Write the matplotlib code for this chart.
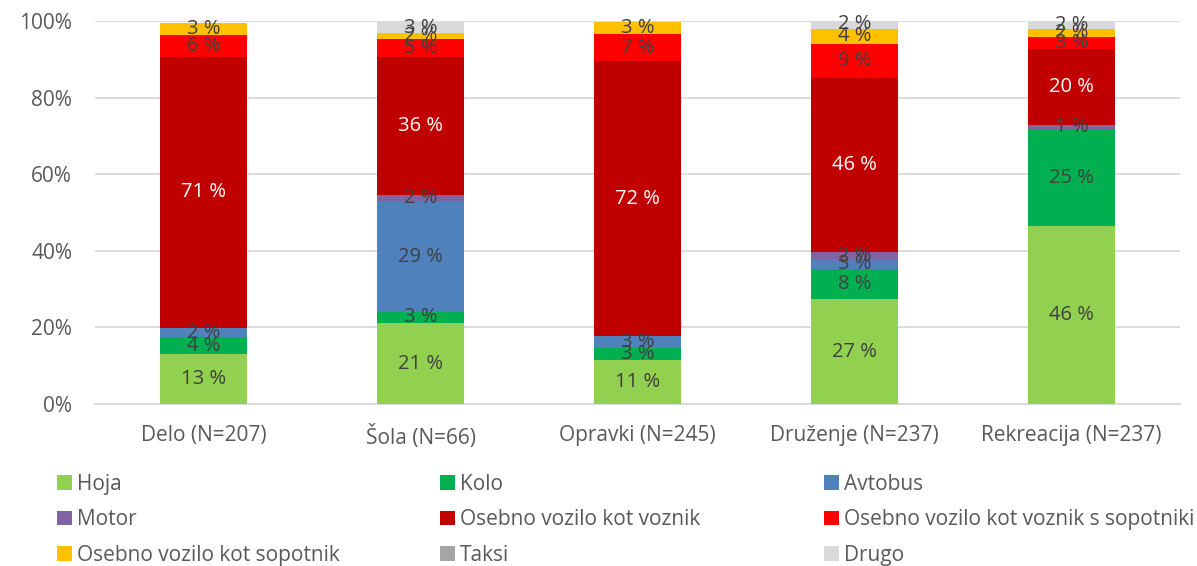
import numpy as np
import matplotlib.pyplot as plt
from matplotlib.patches import Patch

plt.rcParams['font.family'] = ['Open Sans', 'DejaVu Sans']

categories = ['Delo (N=207)', 'Šola (N=66)', 'Opravki (N=245)',
              'Druženje (N=237)', 'Rekreacija (N=237)']

series_names = ['Hoja', 'Kolo', 'Avtobus', 'Motor',
                'Osebno vozilo kot voznik',
                'Osebno vozilo kot voznik s sopotniki',
                'Osebno vozilo kot sopotnik', 'Taksi', 'Drugo']

# shares in percent, one list per transport mode (order follows categories)
hoja = [13.1, 21.1, 11.4, 27.4, 46.4]
kolo = [4.3, 3.0, 3.2, 7.9, 25.3]
avtobus = [2.4, 28.8, 3.2, 2.6, 0.0]
motor = [0.0, 1.6, 0.0, 1.7, 1.1]
voznik = [70.9, 36.2, 71.7, 45.6, 19.9]
voznik_sop = [5.7, 4.6, 7.1, 8.9, 3.2]
sopotnik = [3.0, 1.5, 3.2, 3.9, 2.1]
taksi = [0.0, 0.0, 0.0, 0.0, 0.0]
drugo = [0.0, 3.0, 0.0, 2.2, 1.7]

colors = ['#92D050', '#00B050', '#4F81BD', '#8064A2', '#C00000',
          '#FF0000', '#FFC000', '#A5A5A5', '#D9D9D9']

data = [hoja, kolo, avtobus, motor, voznik, voznik_sop, sopotnik, taksi, drugo]

fig = plt.figure(figsize=(11.97, 5.66), dpi=100)
ax = fig.add_axes([0.0794, 0.2862, 0.9064, 0.6767])

x = np.arange(len(categories))
bottom = np.zeros(len(categories))
for name, vals, col in zip(series_names, data, colors):
    vals = np.array(vals) / 100.0
    ax.bar(x, vals, 0.4, bottom=bottom, color=col, label=name, zorder=3)
    txt_col = 'white' if name == 'Osebno vozilo kot voznik' else '#404040'
    for xi, v, b in zip(x, vals, bottom):
        if v > 0:
            ax.text(xi, b + v / 2, f'{v * 100:.0f} %', ha='center', va='center',
                    fontsize=14.5, color=txt_col, zorder=4)
    bottom += vals

ax.set_xlim(-0.5, len(categories) - 0.5)
ax.set_ylim(0, 1)
ax.set_yticks(np.linspace(0, 1, 6))
ax.set_yticklabels([f'{int(t * 100)}%' for t in np.linspace(0, 1, 6)])
ax.set_xticks(x)
ax.set_xticklabels(categories)
ax.tick_params(axis='both', length=0, labelsize=15, colors='#595959')
ax.tick_params(axis='x', pad=15)
ax.tick_params(axis='y', pad=16.5)
ax.grid(axis='y', color='#D9D9D9', linewidth=1.3, zorder=0)
for s in ['top', 'right', 'left']:
    ax.spines[s].set_visible(False)
ax.spines['bottom'].set_color('#D9D9D9')
ax.spines['bottom'].set_linewidth(1.3)

# legend drawn as three columns so they sit at even spacing
handles = [Patch(facecolor=c, edgecolor='none') for c in colors]
col_x = [0.0476, 0.3676, 0.6884]
for j in range(3):
    idx = [j, j + 3, j + 6]
    leg = fig.legend([handles[i] for i in idx], [series_names[i] for i in idx],
                     loc='upper left', bbox_to_anchor=(col_x[j], 0.1634),
                     frameon=False, fontsize=15, handlelength=0.7,
                     handleheight=0.7, handletextpad=0.25, labelspacing=0.7,
                     borderaxespad=0, borderpad=0)
    for t in leg.get_texts():
        t.set_color('#595959')

fig.savefig('out.png', dpi=100)
